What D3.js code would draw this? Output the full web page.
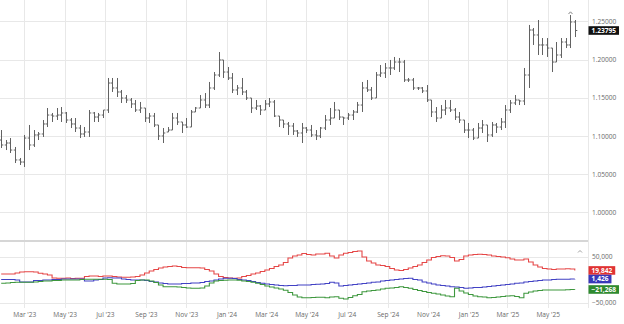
<!DOCTYPE html>
<html>
<head>
<meta charset="utf-8">
<script src="https://cdn.jsdelivr.net/npm/d3@7"></script>
<style>
  html, body { margin: 0; padding: 0; background: #fff; }
  svg { display: block; font-family: "Open Sans", sans-serif; }
</style>
</head>
<body>
<svg id="chart" width="624" height="324"></svg>
<script>
// Weekly bars, first week of the series
const firstWeek = new Date(2023, 0, 25);

const open = [
  1.0946,1.0881,1.0907,1.0815,1.0685,1.0658,1.0972,1.0881,1.1012,1.1025,
  1.1156,1.1273,1.1260,1.1273,1.1300,1.1208,1.1156,1.1103,1.1025,1.1051,
  1.1300,1.1247,1.1273,1.1339,1.1692,1.1627,1.1575,1.1496,1.1470,1.1418,
  1.1339,1.1365,1.1234,1.1260,1.1143,1.0999,1.1051,1.1077,1.1234,1.1182,
  1.1143,1.1116,1.1313,1.1365,1.1470,1.1404,1.1627,1.1797,1.1994,1.1836,
  1.1758,1.1601,1.1627,1.1575,1.1496,1.1365,1.1391,1.1339,1.1418,1.1444,
  1.1260,1.1208,1.1156,1.1129,1.1064,1.1038,1.1103,1.1077,1.1012,1.0999,
  1.1103,1.1208,1.1234,1.1339,1.1247,1.1234,1.1273,1.1313,1.1404,1.1627,
  1.1601,1.1496,1.1797,1.1823,1.1889,1.1889,1.1967,1.1967,1.1732,1.1732,
  1.1627,1.1627,1.1588,1.1470,1.1313,1.1234,1.1339,1.1365,1.1339,1.1247,
  1.1208,1.1077,1.1077,1.0972,1.1103,1.1143,1.1012,1.1143,1.1116,1.1182,
  1.1339,1.1431,1.1470,1.1457,1.1797,1.2386,1.2321,1.2190,1.2190,1.2150,
  1.1967,1.2059,1.2229,1.2190,1.2491
];
const high = [
  1.1077,1.0946,1.0972,1.0855,1.0711,1.1012,1.1143,1.1077,1.1051,1.1208,
  1.1365,1.1300,1.1365,1.1378,1.1313,1.1234,1.1234,1.1143,1.1116,1.1339,
  1.1313,1.1300,1.1339,1.1758,1.1758,1.1758,1.1601,1.1535,1.1496,1.1470,
  1.1444,1.1365,1.1300,1.1300,1.1143,1.1103,1.1116,1.1300,1.1300,1.1182,
  1.1234,1.1339,1.1378,1.1535,1.1561,1.1706,1.1836,1.2098,1.1994,1.1902,
  1.1823,1.1666,1.1758,1.1601,1.1496,1.1470,1.1404,1.1470,1.1496,1.1470,
  1.1260,1.1208,1.1182,1.1169,1.1077,1.1169,1.1116,1.1143,1.1077,1.1116,
  1.1273,1.1365,1.1444,1.1339,1.1247,1.1300,1.1339,1.1444,1.1706,1.1732,
  1.1640,1.1836,1.1928,1.1954,1.1994,1.2033,1.2020,1.1994,1.1758,1.1758,
  1.1640,1.1640,1.1666,1.1470,1.1378,1.1404,1.1470,1.1470,1.1365,1.1313,
  1.1208,1.1169,1.1103,1.1169,1.1208,1.1143,1.1182,1.1169,1.1234,1.1404,
  1.1470,1.1535,1.1470,1.1889,1.2452,1.2412,1.2517,1.2281,1.2281,1.2150,
  1.2229,1.2281,1.2281,1.2582,1.2517
];
const low = [
  1.0842,1.0815,1.0776,1.0645,1.0619,1.0593,1.0815,1.0855,1.0946,1.0986,
  1.1116,1.1182,1.1208,1.1182,1.1169,1.1103,1.1051,1.0972,1.0986,1.0986,
  1.1182,1.1182,1.1234,1.1300,1.1575,1.1509,1.1431,1.1431,1.1365,1.1313,
  1.1300,1.1182,1.1169,1.1116,1.0946,1.0907,1.1051,1.1077,1.1143,1.1038,
  1.1103,1.1116,1.1313,1.1365,1.1365,1.1365,1.1601,1.1771,1.1758,1.1732,
  1.1561,1.1535,1.1535,1.1470,1.1300,1.1339,1.1273,1.1339,1.1378,1.1247,
  1.1116,1.1103,1.1012,1.1012,1.0986,1.0907,1.1038,1.0986,1.0946,1.0972,
  1.1077,1.1143,1.1234,1.1208,1.1143,1.1208,1.1208,1.1300,1.1313,1.1575,
  1.1470,1.1496,1.1771,1.1758,1.1797,1.1863,1.1836,1.1706,1.1706,1.1601,
  1.1601,1.1561,1.1444,1.1247,1.1182,1.1234,1.1273,1.1313,1.1208,1.1169,
  1.1038,1.0972,1.0946,1.0972,1.1038,1.0920,1.0986,1.1038,1.1077,1.1103,
  1.1300,1.1404,1.1404,1.1404,1.1627,1.2190,1.2059,1.2059,1.2033,1.1836,
  1.1967,1.2020,1.2150,1.2150,1.2294
];
const close = [
  1.0881,1.0907,1.0815,1.0685,1.0658,1.0972,1.0881,1.1012,1.1025,1.1156,
  1.1273,1.1260,1.1273,1.1300,1.1208,1.1156,1.1103,1.1025,1.1051,1.1300,
  1.1247,1.1273,1.1339,1.1692,1.1627,1.1575,1.1496,1.1470,1.1418,1.1339,
  1.1365,1.1234,1.1260,1.1143,1.0999,1.1038,1.1077,1.1234,1.1182,1.1143,
  1.1116,1.1313,1.1365,1.1470,1.1404,1.1627,1.1797,1.1994,1.1836,1.1758,
  1.1601,1.1627,1.1575,1.1496,1.1365,1.1391,1.1339,1.1418,1.1444,1.1260,
  1.1208,1.1156,1.1129,1.1064,1.1038,1.1103,1.1077,1.1012,1.0999,1.1103,
  1.1208,1.1234,1.1339,1.1247,1.1234,1.1273,1.1313,1.1404,1.1627,1.1601,
  1.1496,1.1797,1.1823,1.1889,1.1889,1.1967,1.1967,1.1732,1.1732,1.1627,
  1.1627,1.1588,1.1470,1.1313,1.1234,1.1339,1.1365,1.1339,1.1247,1.1208,
  1.1077,1.1077,1.0972,1.1103,1.1143,1.1012,1.1143,1.1116,1.1182,1.1339,
  1.1431,1.1470,1.1457,1.1797,1.2386,1.2321,1.2190,1.2190,1.2150,1.1967,
  1.2059,1.2229,1.2190,1.2491,1.23795
];

// Net positions per week (contracts)
const speculatorsNet = [
  12400,12400,12400,14600,16700,17400,17400,16700,13900,12400,
  10200,3700,3000,3000,3700,2600,3000,3000,7000,8000,
  8000,7000,8000,8000,7000,5900,5200,5200,5900,7000,
  10200,14600,18900,22200,25400,27600,28700,29800,28700,26500,
  26100,26100,26100,25400,22200,18900,12400,7000,4800,3700,
  3000,3700,7000,9100,12400,14600,17800,21100,24300,28700,
  32000,37400,47200,51500,53700,57000,54800,53700,55900,55900,
  57400,51500,47200,53700,57400,59100,61300,62400,49300,40700,
  36300,32000,30900,28700,24300,21100,20000,22200,25400,28700,
  32000,37400,42800,48300,50400,52200,51500,48300,40700,43900,
  51500,53700,54800,55200,54800,53700,51500,50400,49300,47800,
  45000,42800,42800,45000,38500,32000,27600,24300,23300,22200,
  23300,23300,23700,23300,19842
];
const smallTradersNet = [
  400,400,400,-700,-5000,-5000,-5000,-1700,-1700,-700,
  -700,400,400,1500,1500,1500,1500,1500,-2800,-2800,
  -700,400,3700,4300,3700,3700,1500,400,-700,-700,
  -700,-1700,-3900,-5000,-7200,-8300,-9300,-9300,-9300,-8300,
  -8300,-7200,-7200,-6100,-3900,-2800,-700,1500,3000,3000,
  2600,400,-700,-1700,-3900,-6100,-7800,-9300,-10400,-11500,
  -12600,-13000,-12600,-12600,-11500,-11500,-11500,-10400,-10000,-9300,
  -8300,-5700,-7200,-13700,-12600,-11500,-10400,-9300,-8300,-7200,
  -5700,-5000,-2800,-1700,-700,400,1500,2600,3000,400,
  -700,-5000,-7200,-9300,-11500,-12600,-13700,-15200,-15900,-17000,
  -18700,-18000,-17000,-17000,-15900,-14800,-13700,-12600,-11500,-10400,
  -9300,-7800,-7200,-5000,-3900,-2800,-1700,-700,-700,400,
  900,900,1100,1400,1426
];
const commercialsNet = [
  -7800,-7200,-6100,-5700,-5700,-5700,-5700,-5000,-3900,-2800,
  -2800,-1700,-1700,-700,-700,-700,-700,400,900,900,
  900,900,900,400,-7800,-9300,-9300,-9300,-8300,-1700,
  -700,-700,-2800,-6100,-11500,-15200,-15200,-15200,-15900,-17000,
  -18000,-18700,-18700,-18000,-13700,-7200,-2800,-1700,-1300,-700,
  -700,-1300,-2800,-3900,-5700,-7800,-10400,-13700,-15900,-18000,
  -20200,-23000,-27800,-33300,-37600,-39100,-39100,-38700,-38300,-38300,
  -39100,-37600,-37000,-40400,-42000,-38700,-34800,-32200,-26100,-24600,
  -23500,-22400,-20200,-18700,-18000,-17000,-15200,-17000,-18700,-21300,
  -23500,-25700,-27800,-29600,-31100,-33300,-35400,-37000,-18700,-24600,
  -28900,-32200,-35400,-37000,-37600,-39100,-38700,-37600,-36500,-35400,
  -34800,-36500,-39100,-29600,-26700,-24600,-23500,-22400,-22400,-22400,
  -22400,-22400,-21700,-21300,-21268
];

const monthTicks = [
  "2023-03-01","2023-05-01","2023-07-01","2023-09-01","2023-11-01",
  "2024-01-01","2024-03-01","2024-05-01","2024-07-01","2024-09-01","2024-11-01",
  "2025-01-01","2025-03-01","2025-05-01"
];
const priceTicks = [1.00, 1.05, 1.10, 1.15, 1.20, 1.25];
const positionTicks = [-50000, 50000];

const seriesColors = { spec: "#e54646", small: "#4141c4", comm: "#3d973d" };
const badgeColors = { spec: "#e03333", small: "#3838b8", comm: "#2f8a2f" };

// ---- layout ----
const plotRight = 588;
const gridBottom = 308;
const svg = d3.select("#chart");

const weeks = close.map((_, i) => d3.timeDay.offset(firstWeek, 7 * i));
const monthDates = monthTicks.map(d3.timeParse("%Y-%m-%d"));

const x = d3.scaleTime()
  .domain([new Date(2023, 0, 23, 5), new Date(2025, 6, 1)])
  .range([0, plotRight]);
const y = d3.scaleLinear().domain([1.0, 1.25]).range([212.3, 21.3]);
const yPos = d3.scaleLinear().domain([-50000, 50000]).range([302.7, 256.7]);

const gridColor = "#e8e8e8";
const textColor = "#6a6a6a";
const fontSize = "6.6px";

// vertical grid
svg.append("g").selectAll("line").data(monthDates).join("line")
  .attr("x1", d => Math.round(x(d)) + 0.5).attr("x2", d => Math.round(x(d)) + 0.5)
  .attr("y1", 0).attr("y2", gridBottom)
  .attr("stroke", gridColor).attr("stroke-width", 1);
svg.append("line")
  .attr("x1", plotRight + 0.5).attr("x2", plotRight + 0.5)
  .attr("y1", 0).attr("y2", gridBottom)
  .attr("stroke", gridColor);

// horizontal grids
svg.append("g").selectAll("line").data(priceTicks).join("line")
  .attr("x1", 0).attr("x2", plotRight)
  .attr("y1", d => Math.round(y(d)) + 0.5).attr("y2", d => Math.round(y(d)) + 0.5)
  .attr("stroke", gridColor);
svg.append("g").selectAll("line").data(positionTicks).join("line")
  .attr("x1", 0).attr("x2", plotRight)
  .attr("y1", d => Math.round(yPos(d)) + 0.5).attr("y2", d => Math.round(yPos(d)) + 0.5)
  .attr("stroke", gridColor);

// pane separator
svg.append("line")
  .attr("x1", 0).attr("x2", plotRight)
  .attr("y1", 241).attr("y2", 241)
  .attr("stroke", "#d6d6d6").attr("stroke-width", 2);

// ---- OHLC bars ----
const bars = svg.append("g")
  .attr("fill", "none").attr("stroke", "#626262").attr("stroke-width", 1);
bars.selectAll("path").data(close.map((c, i) => i)).join("path")
  .attr("d", i => {
    const bx = Math.round(x(weeks[i])) + 0.5;
    return `M${bx},${y(high[i])}V${y(low[i])}` +
           `M${bx - 1.8},${y(open[i])}H${bx}` +
           `M${bx},${y(close[i])}H${bx + 1.8}`;
  });

// high marker over the top bar
const topIdx = d3.maxIndex(high);
const tx = Math.round(x(weeks[topIdx])) + 0.5;
const ty = y(high[topIdx]);
svg.append("path")
  .attr("d", `M${tx - 2},${ty - 1}L${tx},${ty - 3.2}L${tx + 2},${ty - 1}`)
  .attr("fill", "none").attr("stroke", "#777").attr("stroke-width", 0.9);

// ---- position lines ----
const stepLine = d3.line()
  .x((v, i) => x(weeks[i]))
  .y(v => yPos(v))
  .curve(d3.curveStepAfter);
[["spec", speculatorsNet], ["small", smallTradersNet], ["comm", commercialsNet]]
  .forEach(([key, vals]) => {
    svg.append("path").datum(vals)
      .attr("d", stepLine)
      .attr("fill", "none")
      .attr("stroke", seriesColors[key])
      .attr("stroke-width", 1.1);
  });

// collapse marker in lower pane
svg.append("path")
  .attr("d", "M578,252.5L580,250.5L582,252.5")
  .attr("fill", "none").attr("stroke", "#888").attr("stroke-width", 0.8);

// ---- axes ----
const priceAxis = d3.axisRight(y)
  .tickValues(priceTicks).tickFormat(d3.format(".5f"))
  .tickSize(0).tickPadding(4);
const pa = svg.append("g").attr("transform", `translate(${plotRight},0)`).call(priceAxis);
pa.select(".domain").remove();
pa.selectAll("text").attr("fill", textColor).style("font-size", fontSize).style("font-family", "Open Sans");

const posAxis = d3.axisRight(yPos)
  .tickValues(positionTicks).tickFormat(d3.format(","))
  .tickSize(0).tickPadding(4);
const qa = svg.append("g").attr("transform", `translate(${plotRight},0)`).call(posAxis);
qa.select(".domain").remove();
qa.selectAll("text").attr("fill", textColor).style("font-size", fontSize).style("font-family", "Open Sans");

const timeAxis = d3.axisBottom(x)
  .tickValues(monthDates).tickFormat(d3.timeFormat("%b '%y"))
  .tickSize(0).tickPadding(2);
const ta = svg.append("g").attr("transform", `translate(0,${gridBottom + 2})`).call(timeAxis);
ta.select(".domain").remove();
ta.selectAll("text").attr("fill", textColor).style("font-size", fontSize).style("font-family", "Open Sans");

// ---- last value badges ----
function badge(yy, fill, label) {
  const g = svg.append("g");
  const t = g.append("text")
    .attr("x", plotRight + 3.5).attr("y", yy)
    .attr("dy", "0.35em")
    .attr("fill", "#fff")
    .style("font-size", fontSize).style("font-weight", "700")
    .style("font-family", "Open Sans")
    .text(label);
  const w = t.node().getComputedTextLength() + 6;
  g.insert("rect", "text")
    .attr("x", plotRight + 0.5).attr("y", yy - 4.3)
    .attr("width", w).attr("height", 8.6)
    .attr("fill", fill);
}
const last = close.length - 1;
badge(y(close[last]), "#111", d3.format(".5f")(close[last]));

const specY = yPos(speculatorsNet[last]);
const smallY = yPos(smallTradersNet[last]);
const commY = yPos(commercialsNet[last]);
// keep badges from overlapping
badge(Math.min(specY, smallY - 8.6), badgeColors.spec, d3.format(",")(speculatorsNet[last]));
badge(smallY, badgeColors.small, d3.format(",")(smallTradersNet[last]));
badge(Math.max(commY, smallY + 8.6), badgeColors.comm, d3.format(",")(commercialsNet[last]));
</script>
</body>
</html>
